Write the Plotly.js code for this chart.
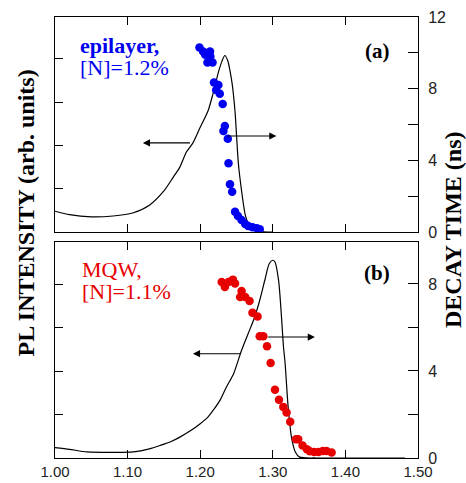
<!DOCTYPE html>
<html>
<head>
<meta charset="utf-8">
<script src="https://cdn.plot.ly/plotly-3.0.1.min.js"></script>
<style>html,body{margin:0;padding:0;background:#fff;}#chart{width:466px;height:483px;}</style>
</head>
<body>
<div id="chart"></div>
<script>
// ---- Data ----
const xTickVals = [1.00, 1.10, 1.20, 1.30, 1.40, 1.50];
const xTickText = ["1.00", "1.10", "1.20", "1.30", "1.40", "1.50"];

// Panel (a): epilayer, [N]=1.2%
const plA_x = [1.00, 1.02, 1.05, 1.08, 1.107, 1.13, 1.15, 1.163, 1.172, 1.181, 1.19, 1.20, 1.211, 1.218, 1.225, 1.230, 1.234, 1.238, 1.241, 1.244, 1.248, 1.2525, 1.257, 1.262, 1.266, 1.272, 1.280, 1.292, 1.30];
const plA_y = [0.48, 0.40, 0.35, 0.37, 0.44, 0.62, 0.95, 1.27, 1.50, 1.85, 2.06, 2.42, 2.81, 3.22, 3.69, 3.95, 4.08, 3.96, 3.73, 3.43, 2.78, 1.60, 0.95, 0.40, 0.20, 0.08, 0.02, 0.0, 0.0];
const decayA_x = [1.199, 1.204, 1.2135, 1.207, 1.214, 1.210, 1.217, 1.219, 1.225, 1.222, 1.227, 1.231, 1.234, 1.232, 1.238, 1.239, 1.241, 1.244, 1.248, 1.252, 1.257, 1.262, 1.266, 1.272, 1.278, 1.282];
const decayA_y = [10.30, 10.07, 10.07, 9.89, 9.80, 9.46, 9.46, 8.34, 8.21, 7.93, 7.71, 7.15, 5.92, 5.64, 5.21, 3.84, 2.66, 2.25, 1.13, 0.89, 0.67, 0.45, 0.34, 0.26, 0.21, 0.15];

// Panel (b): MQW, [N]=1.1%
const plB_x = [1.00, 1.02, 1.044, 1.08, 1.108, 1.13, 1.145, 1.16, 1.172, 1.187, 1.20, 1.21, 1.218, 1.228, 1.236, 1.246, 1.257, 1.266, 1.275, 1.282, 1.289, 1.295, 1.300, 1.303, 1.308, 1.312, 1.3145, 1.317, 1.321, 1.326, 1.331, 1.337, 1.36, 1.482];
const plB_y = [0.24, 0.20, 0.14, 0.13, 0.14, 0.21, 0.29, 0.38, 0.48, 0.63, 0.79, 0.93, 1.10, 1.35, 1.63, 1.94, 2.48, 2.86, 3.24, 3.63, 4.09, 4.47, 4.55, 4.51, 4.08, 3.24, 2.60, 2.17, 1.20, 0.45, 0.14, 0.02, 0.0, 0.0];
const decayB_x = [1.2296, 1.234, 1.239, 1.245, 1.248, 1.257, 1.255, 1.262, 1.268, 1.272, 1.279, 1.282, 1.287, 1.292, 1.297, 1.303, 1.3085, 1.3145, 1.319, 1.324, 1.332, 1.335, 1.341, 1.347, 1.351, 1.357, 1.363, 1.369, 1.374, 1.381];
const decayB_y = [8.09, 7.86, 8.09, 8.20, 8.02, 7.68, 7.40, 7.40, 7.22, 6.68, 6.51, 5.60, 5.60, 5.14, 4.37, 3.14, 2.68, 2.35, 2.09, 1.67, 0.86, 0.86, 0.58, 0.40, 0.31, 0.28, 0.28, 0.32, 0.32, 0.25];

const rightTicksA = [0, 2, 4, 6, 8, 10, 12];
const rightTextA = ["0", "", "4", "", "8", "", "12"];
const rightTicksB = [0, 2, 4, 6, 8];
const rightTextB = ["0", "", "4", "", "8"];
const leftTicks = [1, 2, 3, 4];

// ---- Styling ----
const blue = "#0000f0";
const red = "#e60000";
const serif = "'Liberation Serif', 'Times New Roman', serif";
const sans = "'Liberation Sans', Arial, sans-serif";

const traces = [
  {x: plB_x, y: plB_y, xaxis: "x", yaxis: "y", mode: "lines", line: {color: "#000", width: 1.2, shape: "spline", smoothing: 0.7}},
  {x: decayB_x, y: decayB_y, xaxis: "x", yaxis: "y2", mode: "markers", marker: {color: red, size: 8.5}},
  {x: plA_x, y: plA_y, xaxis: "x2", yaxis: "y3", mode: "lines", line: {color: "#000", width: 1.2, shape: "spline", smoothing: 0.7}},
  {x: decayA_x, y: decayA_y, xaxis: "x2", yaxis: "y4", mode: "markers", marker: {color: blue, size: 8.5}}
];

const axCommon = {showgrid: false, zeroline: false, showline: true, linecolor: "#000", linewidth: 1,
  ticks: "inside", ticklen: 8, tickcolor: "#000", tickwidth: 1};

const layout = {
  width: 466, height: 483,
  margin: {l: 55, r: 48, t: 17, b: 25, pad: 0},
  paper_bgcolor: "#fff", plot_bgcolor: "rgba(0,0,0,0)",
  showlegend: false,
  xaxis: Object.assign({}, axCommon, {anchor: "y", domain: [0, 1], range: [1.0, 1.5],
    tickvals: xTickVals, ticktext: xTickText, mirror: "ticks",
    tickfont: {family: sans, size: 15, color: "#222"}}),
  yaxis: Object.assign({}, axCommon, {anchor: "x", domain: [0, 0.4898], range: [0, 4.97],
    tickvals: leftTicks, showticklabels: false}),
  yaxis2: Object.assign({}, axCommon, {anchor: "x", overlaying: "y", side: "right", range: [0, 9.93],
    tickvals: rightTicksB, ticktext: rightTextB, ticklen: 10, ticklabelstandoff: 6,
    tickfont: {family: sans, size: 16, color: "#222"}}),
  xaxis2: Object.assign({}, axCommon, {anchor: "y3", domain: [0, 1], range: [1.0, 1.5],
    tickvals: xTickVals, showticklabels: false, mirror: "ticks"}),
  yaxis3: Object.assign({}, axCommon, {anchor: "x2", domain: [0.5125, 1], range: [0, 4.97],
    tickvals: leftTicks, showticklabels: false}),
  yaxis4: Object.assign({}, axCommon, {anchor: "x2", overlaying: "y3", side: "right", range: [0, 12],
    tickvals: rightTicksA, ticktext: rightTextA, ticklen: 10, ticklabelstandoff: 6,
    tickfont: {family: sans, size: 16, color: "#222"}}),
  annotations: [
    // arrows
    {xref: "x2", yref: "y3", axref: "x2", ayref: "y3", x: 1.121, y: 2.06, ax: 1.188, ay: 2.06, text: "", showarrow: true, arrowhead: 2, arrowsize: 1.3, arrowwidth: 1.1, arrowcolor: "#000"},
    {xref: "x2", yref: "y4", axref: "x2", ayref: "y4", x: 1.305, y: 5.36, ax: 1.236, ay: 5.36, text: "", showarrow: true, arrowhead: 2, arrowsize: 1.3, arrowwidth: 1.1, arrowcolor: "#000"},
    {xref: "x", yref: "y", axref: "x", ayref: "y", x: 1.190, y: 2.40, ax: 1.257, ay: 2.40, text: "", showarrow: true, arrowhead: 2, arrowsize: 1.3, arrowwidth: 1.1, arrowcolor: "#000"},
    {xref: "x", yref: "y2", axref: "x", ayref: "y2", x: 1.358, y: 5.56, ax: 1.2916, ay: 5.56, text: "", showarrow: true, arrowhead: 2, arrowsize: 1.3, arrowwidth: 1.1, arrowcolor: "#000"},
    // panel labels
    {xref: "paper", yref: "paper", x: 0.0634, y: 0.9365, xanchor: "left", yanchor: "middle", showarrow: false,
      text: "<b>epilayer,</b>", font: {family: serif, size: 22, color: blue}},
    {xref: "paper", yref: "paper", x: 0.0634, y: 0.886, xanchor: "left", yanchor: "middle", showarrow: false,
      text: "[N]=1.2%", font: {family: serif, size: 22, color: blue}},
    {xref: "paper", yref: "paper", x: 0.0689, y: 0.4283, xanchor: "left", yanchor: "middle", showarrow: false,
      text: "MQW,", font: {family: serif, size: 22, color: red}},
    {xref: "paper", yref: "paper", x: 0.0689, y: 0.3767, xanchor: "left", yanchor: "middle", showarrow: false,
      text: "[N]=1.1%", font: {family: serif, size: 22, color: red}},
    {xref: "paper", yref: "paper", x: 0.888, y: 0.9218, xanchor: "center", yanchor: "middle", showarrow: false,
      text: "<b>(a)</b>", font: {family: serif, size: 21, color: "#000"}},
    {xref: "paper", yref: "paper", x: 0.887, y: 0.4195, xanchor: "center", yanchor: "middle", showarrow: false,
      text: "<b>(b)</b>", font: {family: serif, size: 21, color: "#000"}},
    // axis titles
    {xref: "paper", yref: "paper", x: -0.0799, y: 0.5567, xanchor: "center", yanchor: "middle", textangle: -90, showarrow: false,
      text: "<b>PL INTENSITY (arb. units)</b>", font: {family: serif, size: 24, color: "#000"}},
    {xref: "paper", yref: "paper", x: 1.096, y: 0.519, xanchor: "center", yanchor: "middle", textangle: -90, showarrow: false,
      text: "<b>DECAY TIME (ns)</b>", font: {family: serif, size: 24, color: "#000"}}
  ]
};

Plotly.newPlot("chart", traces, layout, {staticPlot: true, displayModeBar: false});
</script>
</body>
</html>
